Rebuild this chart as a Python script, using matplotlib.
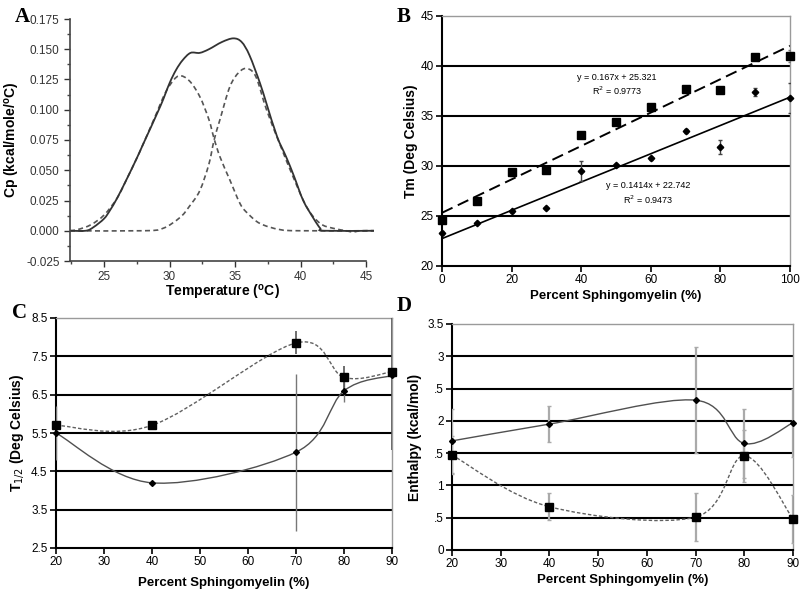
import numpy as np
import matplotlib
matplotlib.use('Agg')
import matplotlib.pyplot as plt
from matplotlib.path import Path
from matplotlib.patches import PathPatch

plt.rcParams['font.family'] = ['Liberation Sans', 'DejaVu Sans']

# ---- panel A: DSC trace and its two fitted components
tempTotal = [22.4, 23.6, 24.2, 25.0, 25.46, 26.0, 26.7, 27.5, 28.0, 29.3, 30.0, 30.5, 31.0, 31.6,
             32.3, 33.0, 34.0, 34.87, 35.5, 36.1, 36.9, 37.4, 38.2, 38.9, 39.5, 40.2, 41.0,
             41.5, 41.8, 45.6]
cpTotal = [0, 0, 0.003, 0.010, 0.017, 0.027, 0.042, 0.060, 0.072, 0.103, 0.122, 0.133, 0.141,
           0.147, 0.147, 0.150, 0.156, 0.159, 0.156, 0.145, 0.122, 0.105, 0.078, 0.061, 0.045,
           0.025, 0.010, 0.002, 0, 0]
tempPeak1 = [22.4, 23.0, 24.0, 25.0, 26.0, 26.7, 27.5, 28.0, 29.0, 29.5, 30.0, 30.7, 31.5, 32.3,
             33.0, 33.4, 33.85, 34.6, 35.4, 36.0, 36.9, 38.4, 40.0, 45.6]
cpPeak1 = [0, 0.001, 0.005, 0.013, 0.027, 0.042, 0.060, 0.072, 0.097, 0.110, 0.120, 0.128, 0.124,
           0.111, 0.092, 0.076, 0.061, 0.042, 0.022, 0.014, 0.006, 0.001, 0, 0]
tempPeak2 = [22.4, 28.0, 29.5, 30.8, 31.5, 32.3, 33.0, 33.4, 33.85, 34.6, 35.3, 35.94, 36.6, 37.4,
             38.4, 39.45, 40.5, 41.5, 42.5, 43.5, 44.0, 44.6, 45.6]
cpPeak2 = [0, 0, 0.002, 0.011, 0.020, 0.033, 0.055, 0.075, 0.092, 0.119, 0.131, 0.134, 0.127, 0.100,
           0.072, 0.044, 0.019, 0.006, 0.002, 0.0, -0.001, 0, 0]

# ---- panel B: Tm vs percent sphingomyelin
pctB = [0, 10, 20, 30, 40, 50, 60, 70, 80, 90, 100]
tmSquares = [24.6, 26.5, 29.4, 29.6, 33.1, 34.4, 35.9, 37.7, 37.6, 40.9, 41.0]
tmSquaresErr = [0.15, 0.15, 0.35, 0.15, 0.3, 0.15, 0.15, 0.15, 0.15, 0.2, 0.6]
tmDiamonds = [23.3, 24.3, 25.5, 25.8, 29.5, 30.1, 30.8, 33.5, 31.9, 37.4, 36.8]
tmDiamondsErr = [0.2, 0.15, 0.15, 0.1, 1.0, 0.15, 0.15, 0.2, 0.7, 0.4, 1.5]
fitSquares = (0.167, 25.321, 0.9773)
fitDiamonds = (0.1414, 22.742, 0.9473)

# ---- panels C and D
pctCD = [20, 40, 70, 80, 90]
t12Squares = [5.7, 5.7, 7.85, 6.95, 7.1]
t12SquaresErr = [0.1, 0.05, 0.3, 0.3, 2.05]
t12Diamonds = [5.5, 4.2, 5.0, 6.6, 7.0]
t12DiamondsErr = [0.7, 0.05, 2.05, 0.3, 0.1]

dhDiamonds = [1.69, 1.95, 2.32, 1.65, 1.97]
dhDiamondsErr = [0.5, 0.28, 0.82, 0.53, 0.53]
dhSquares = [1.47, 0.67, 0.51, 1.46, 0.48]
dhSquaresErr = [0.3, 0.21, 0.37, 0.4, 0.37]
dTickLabels = ['0', '.5', '1', '.5', '2', '.5', '3', '3.5']


def smooth(ax, x, y, **kw):
    # Excel-like smoothed line: cubic bezier through each point
    pts = np.column_stack([x, y]).astype(float)
    n = len(pts)
    verts = [pts[0]]
    codes = [Path.MOVETO]
    for i in range(n - 1):
        p0 = pts[max(i - 1, 0)]
        p1 = pts[i]
        p2 = pts[i + 1]
        p3 = pts[min(i + 2, n - 1)]
        verts += [p1 + (p2 - p0) / 6, p2 - (p3 - p1) / 6, p2]
        codes += [Path.CURVE4] * 3
    ax.add_patch(PathPatch(Path(verts, codes), fill=False, **kw))


def excel_frame(ax, ylo, yhi, ystep):
    ax.set_ylim(ylo, yhi)
    for s in ['top', 'right']:
        ax.spines[s].set_color('#9a9a9a')
        ax.spines[s].set_linewidth(1.0)
    for s in ['left', 'bottom']:
        ax.spines[s].set_color('black')
        ax.spines[s].set_linewidth(1.5)
    yt = np.arange(ylo, yhi + ystep / 2, ystep)
    ax.set_yticks(yt)
    for v in yt[1:-1]:
        ax.axhline(v, color='black', lw=1.5, zorder=1)
    ax.tick_params(direction='out', length=4, width=1.2, labelsize=8.5, colors='black', pad=2)


fig = plt.figure(figsize=(8.03, 6.02), dpi=100)

# ---------------- A
axA = fig.add_axes([70 / 803, 1 - 261 / 602, 305 / 803, 242 / 602])
smooth(axA, tempPeak1, cpPeak1, color='#555555', lw=1.2, linestyle=(0, (3, 2)))
smooth(axA, tempPeak2, cpPeak2, color='#555555', lw=1.2, linestyle=(0, (3, 2)))
smooth(axA, tempTotal, cpTotal, color='#333333', lw=1.3)
axA.set_xlim(22.4, 45.68)
axA.set_ylim(-0.025, 0.175)
axA.spines['top'].set_visible(False)
axA.spines['right'].set_visible(False)
axA.spines['bottom'].set_bounds(22.4, 45)
for s in ['left', 'bottom']:
    axA.spines[s].set_color('#444444')
    axA.spines[s].set_linewidth(1.2)
axA.set_xticks([25, 30, 35, 40, 45])
axA.set_xticks([22.5, 27.5, 32.5, 37.5, 42.5], minor=True)
axA.set_yticks(np.arange(-0.025, 0.176, 0.025))
axA.set_yticks(np.arange(-0.0125, 0.175, 0.025), minor=True)
axA.set_yticklabels(['%.3f' % v for v in np.arange(-0.025, 0.176, 0.025)])
axA.tick_params(which='major', direction='out', length=4, width=1, colors='#333333', labelsize=8.5)
axA.tick_params(which='minor', direction='out', length=2.5, width=1, colors='#444444')
axA.set_xlabel('Temperature ($\\mathregular{^o}$C)', fontsize=10, fontweight='bold', labelpad=0)
axA.set_ylabel('Cp (kcal/mole/$\\mathregular{^o}$C)', fontsize=10, fontweight='bold', labelpad=3)

# ---------------- B
axB = fig.add_axes([442 / 803, 1 - 266 / 602, 348 / 803, 250 / 602])
excel_frame(axB, 20, 45, 5)
axB.set_xlim(0, 100)
axB.set_xticks([0, 20, 40, 60, 80, 100])
axB.errorbar(pctB, tmSquares, yerr=tmSquaresErr, fmt='none', ecolor='#777777', elinewidth=1,
             capsize=1.5, zorder=3)
axB.errorbar(pctB, tmDiamonds, yerr=tmDiamondsErr, fmt='none', ecolor='#444444', elinewidth=1,
             capsize=1.5, zorder=3)
axB.plot(pctB, tmSquares, 's', color='black', ms=5.8, zorder=4, clip_on=False)
axB.plot(pctB, tmDiamonds, 'D', color='black', ms=3.3, zorder=4, clip_on=False)
axB.axline((0, fitSquares[1]), slope=fitSquares[0], color='black', lw=1.4,
           linestyle=(0, (6, 3)), zorder=2)
axB.axline((0, fitDiamonds[1]), slope=fitDiamonds[0], color='black', lw=1.2, zorder=2)
axB.text(50.3, 38.8, 'y = %gx + %g' % fitSquares[:2], fontsize=6.5, ha='center', va='center')
axB.text(50.3, 37.5, 'R$^2$ = %g' % fitSquares[2], fontsize=6.5, ha='center', va='center')
axB.text(59.2, 28.0, 'y = %gx + %g' % fitDiamonds[:2], fontsize=6.5, ha='center', va='center')
axB.text(59.2, 26.6, 'R$^2$ = %g' % fitDiamonds[2], fontsize=6.5, ha='center', va='center')
axB.set_xlabel('Percent Sphingomyelin (%)', fontsize=9.5, fontweight='bold', labelpad=3)
axB.set_ylabel('Tm (Deg Celsius)', fontsize=10, fontweight='bold', labelpad=2)

# ---------------- C
axC = fig.add_axes([56 / 803, 1 - 548 / 602, 336 / 803, 230 / 602])
excel_frame(axC, 2.5, 8.5, 1)
axC.set_xlim(20, 90)
axC.set_xticks(range(20, 91, 10))
axC.errorbar(pctCD, t12Diamonds, yerr=t12DiamondsErr, fmt='none', ecolor='#777777',
             elinewidth=1, zorder=3)
axC.errorbar(pctCD, t12Squares, yerr=t12SquaresErr, fmt='none', ecolor='#555555',
             elinewidth=1.2, zorder=3)
smooth(axC, pctCD, t12Squares, color='#606060', lw=1, linestyle=(0, (2.5, 1.5)), zorder=3)
smooth(axC, pctCD, t12Diamonds, color='#505050', lw=1, zorder=3)
axC.plot(pctCD, t12Squares, 's', color='black', ms=5.8, zorder=4, clip_on=False)
axC.plot(pctCD, t12Diamonds, 'D', color='black', ms=3, zorder=4, clip_on=False)
axC.set_xlabel('Percent Sphingomyelin (%)', fontsize=9.5, fontweight='bold', labelpad=6)
axC.set_ylabel('T$_{1/2}$ (Deg Celsius)', fontsize=10, fontweight='bold', labelpad=4)

# ---------------- D
axD = fig.add_axes([452 / 803, 1 - 550 / 602, 341 / 803, 226 / 602])
excel_frame(axD, 0, 3.5, 0.5)
axD.set_yticklabels(dTickLabels)
axD.set_xlim(20, 90)
axD.set_xticks(range(20, 91, 10))
axD.errorbar(pctCD, dhDiamonds, yerr=dhDiamondsErr, fmt='none', ecolor='#aaaaaa',
             elinewidth=1.6, capsize=1.5, zorder=3)
axD.errorbar(pctCD, dhSquares, yerr=dhSquaresErr, fmt='none', ecolor='#aaaaaa',
             elinewidth=1.6, capsize=1.5, zorder=3)
smooth(axD, pctCD, dhSquares, color='#606060', lw=1, linestyle=(0, (2.5, 1.5)), zorder=3)
smooth(axD, pctCD, dhDiamonds, color='#505050', lw=1, zorder=3)
axD.plot(pctCD, dhSquares, 's', color='black', ms=5.8, zorder=4, clip_on=False)
axD.plot(pctCD, dhDiamonds, 'D', color='black', ms=3, zorder=4, clip_on=False)
axD.set_xlabel('Percent Sphingomyelin (%)', fontsize=9.5, fontweight='bold', labelpad=3)
axD.set_ylabel('Enthalpy (kcal/mol)', fontsize=10, fontweight='bold', labelpad=4)

# panel letters
for lab, x, y in [('A', 22, 17), ('B', 404, 17), ('C', 20, 313), ('D', 404, 306)]:
    fig.text(x / 803, 1 - y / 602, lab, fontsize=15, fontweight='bold',
             family='Liberation Serif', ha='center', va='center')

fig.savefig('out.png', dpi=100, facecolor='white')
